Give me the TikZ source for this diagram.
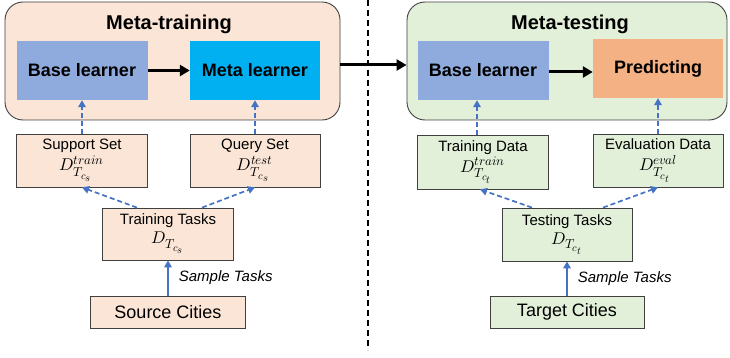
\documentclass[tikz,border=0pt]{standalone}
\usepackage{fontspec}
\usepackage{unicode-math}
\setmainfont{Liberation Sans}
\setmathfont{Latin Modern Math}
\DeclareMathSizes{17}{17}{13}{10.5}
\usetikzlibrary{arrows.meta}
\definecolor{peach}{HTML}{FBE5D6}
\definecolor{lgreen}{HTML}{E2F0D9}
\definecolor{baseblue}{HTML}{8FAADC}
\definecolor{metacyan}{HTML}{00B0F0}
\definecolor{predorange}{HTML}{F4B183}
\definecolor{arrblue}{HTML}{4472C4}
\definecolor{edge}{HTML}{404040}
\newcommand{\mline}[1]{{\fontsize{17}{20}\selectfont$#1$}}
\tikzset{
  panel/.style={draw=edge, line width=0.9pt, rounded corners=18pt, inner sep=0pt},
  paneltitle/.style={font=\fontsize{20}{24}\selectfont\bfseries, inner sep=0pt},
  learner/.style={draw=none, inner sep=0pt, font=\fontsize{18}{22}\selectfont\bfseries},
  databox/.style={draw=edge, line width=0.8pt, inner sep=0pt, align=center, font=\fontsize{15}{19}\selectfont},
  citybox/.style={draw=edge, line width=0.8pt, inner sep=0pt, font=\fontsize{18}{22}\selectfont},
  bigarrow/.style={line width=3pt, -{Triangle[length=10pt,width=11pt]}},
  dasharrow/.style={arrblue, line width=1.7pt, dash pattern=on 5pt off 3pt, -{Triangle[length=7pt,width=7.5pt]}},
  samplearrow/.style={arrblue, line width=1.7pt, -{Triangle[length=7pt,width=7.5pt]}},
  samplelabel/.style={text=black, font=\fontsize{15}{18}\selectfont\itshape, inner sep=0pt, anchor=west},
  divider/.style={line width=1.6pt, dash pattern=on 6pt off 4pt}
}
\begin{document}
\begin{tikzpicture}[x=1pt,y=-1pt]
\useasboundingbox (0,0) rectangle (730,358);
% panels
\node[panel, fill=peach, minimum width=335pt, minimum height=118pt] (lpanel) at (172.5,61) {};
\node[panel, fill=lgreen, minimum width=320pt, minimum height=118pt] (rpanel) at (567,61) {};
\node[paneltitle] (titleL) at (169,24) {Meta-training};
\node[paneltitle] (titleR) at (570,24) {Meta-testing};
% learners
\node[learner, fill=baseblue, minimum width=131pt, minimum height=59pt] (blL) at (82,70.5) {Base learner};
\node[learner, fill=metacyan, minimum width=130pt, minimum height=59pt] (ml) at (255,70.5) {Meta learner};
\node[learner, fill=baseblue, minimum width=131pt, minimum height=59pt] (blR) at (483,70.5) {Base learner};
\node[learner, fill=predorange, minimum width=130pt, minimum height=59pt] (pred) at (658,68.5) {Predicting};
% data boxes
\node[databox, fill=peach, minimum width=131pt, minimum height=53pt] (sup) at (82,160.5) {Support Set\\[2pt] \mline{D_{T_{c_s}}^{train}}};
\node[databox, fill=peach, minimum width=130pt, minimum height=53pt] (qry) at (255,160.5) {Query Set\\[2pt] \mline{D_{T_{c_s}}^{test}}};
\node[databox, fill=lgreen, minimum width=131pt, minimum height=54pt] (trd) at (483,162) {Training Data\\[2pt] \mline{D_{T_{c_t}}^{train}}};
\node[databox, fill=lgreen, minimum width=130pt, minimum height=53pt] (evd) at (658,160.5) {Evaluation Data\\[2pt] \mline{D_{T_{c_t}}^{eval}}};
\node[databox, fill=peach, minimum width=131pt, minimum height=52pt] (trt) at (168,234) {Training Tasks\\[0pt] \mline{D_{T_{c_s}}}};
\node[databox, fill=lgreen, minimum width=130pt, minimum height=53pt] (tst) at (567,234.5) {Testing Tasks\\[0pt] \mline{D_{T_{c_t}}}};
% cities
\node[citybox, fill=peach, minimum width=155pt, minimum height=32pt] (src) at (168,312) {Source Cities};
\node[citybox, fill=lgreen, minimum width=154pt, minimum height=32pt] (tgt) at (567,312) {Target Cities};
% divider
\coordinate (dtop) at (368,0);
\coordinate (dbot) at (368,350);
\draw[divider] (dtop) -- (dbot);
% black arrows
\draw[bigarrow] (blL.east) -- (ml.west);
\draw[bigarrow] ([yshift=-1.5pt]blR.east) -- ([yshift=-1.5pt]blR.east -| pred.west);
\draw[bigarrow] ([yshift=-4pt]lpanel.east) -- ([yshift=-4pt]rpanel.west);
% dashed blue arrows
\draw[dasharrow] (sup.north) -- (blL.south);
\draw[dasharrow] (qry.north) -- (ml.south);
\draw[dasharrow] ([xshift=-6pt]trd.north) -- ([xshift=-6pt]blR.south);
\draw[dasharrow] (evd.north) -- (pred.south);
\draw[dasharrow] ([xshift=-31pt]trt.north) -- (sup.south);
\draw[dasharrow] ([xshift=34pt]trt.north) -- (qry.south);
\draw[dasharrow] ([xshift=-35pt]tst.north) -- ([xshift=-3pt]trd.south);
\draw[dasharrow] ([xshift=36pt]tst.north) -- (evd.south);
% sample arrows
\draw[samplearrow] (src.north) -- node[samplelabel, xshift=10pt] (slL) {Sample Tasks} (trt.south);
\draw[samplearrow] (tgt.north) -- node[samplelabel, xshift=10pt] (slR) {Sample Tasks} (tst.south);
\end{tikzpicture}
\end{document}
